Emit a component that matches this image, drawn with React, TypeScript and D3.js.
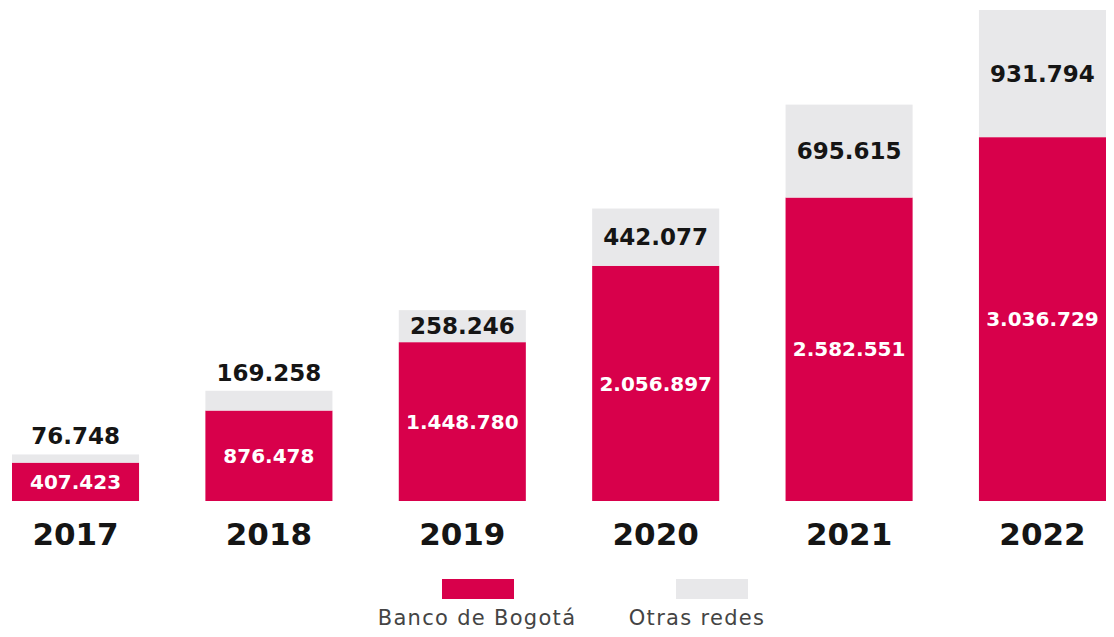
import React from "react";
import * as d3 from "d3";

const years = ["2017", "2018", "2019", "2020", "2021", "2022"];
const bancoBogota = [407423, 876478, 1448780, 2056897, 2582551, 3036729];
const otrasRedes = [76748, 169258, 258246, 442077, 695615, 931794];
const seriesNames = ["Banco de Bogotá", "Otras redes"];

const W = 1114;
const H = 637;
const RED = "#D8004B";
const GREY = "#E8E8EA";
const FONT = "'DejaVu Sans', sans-serif";

const fmt = (v: number) => d3.format(",")(v).replace(/,/g, ".");

export default function App() {
  const baseY = 501;
  const topY = 10;
  const totals = years.map((_, i) => bancoBogota[i] + otrasRedes[i]);
  const x = d3.scaleBand<string>().domain(years).range([12, 1106]).paddingInner(0.343).paddingOuter(0);
  const y = d3
    .scalePow()
    .exponent(1.12)
    .domain([0, d3.max(totals) as number])
    .range([baseY, topY]);

  const color = d3.scaleOrdinal<string, string>().domain(seriesNames).range([RED, GREY]);

  return (
    <svg width={W} height={H} style={{ position: "absolute", left: 0, top: 0, background: "#fff" }}>
      {years.map((yr, i) => {
        const x0 = x(yr) as number;
        const bw = x.bandwidth();
        const cx = x0 + bw / 2;
        const redTop = y(bancoBogota[i]);
        const greyTop = y(totals[i]);
        const greyH = redTop - greyTop;
        const greyInside = greyH > 30;
        const greyLabelY = greyInside ? (greyTop + redTop) / 2 : greyTop - 10;
        return (
          <g key={yr}>
            <rect x={x0} y={redTop} width={bw} height={baseY - redTop} fill={color(seriesNames[0])} />
            <rect x={x0} y={greyTop} width={bw} height={greyH} fill={color(seriesNames[1])} />
            <text
              x={cx}
              y={(redTop + baseY) / 2}
              dy="0.36em"
              textAnchor="middle"
              fill="#fff"
              fontFamily={FONT}
              fontWeight="bold"
              fontSize={20}
            >
              {fmt(bancoBogota[i])}
            </text>
            <text
              x={cx}
              y={greyLabelY}
              dy={greyInside ? "0.36em" : "0"}
              textAnchor="middle"
              fill="#151515"
              fontFamily={FONT}
              fontWeight="bold"
              fontSize={23}
            >
              {fmt(otrasRedes[i])}
            </text>
            <text
              x={cx}
              y={545}
              textAnchor="middle"
              fill="#151515"
              fontFamily={FONT}
              fontWeight="bold"
              fontSize={31}
            >
              {yr}
            </text>
          </g>
        );
      })}
      {seriesNames.map((name, i) => {
        const lx = [477, 697][i];
        const rx = [442, 676][i];
        return (
          <g key={name}>
            <rect x={rx} y={579} width={72} height={20} fill={color(name)} />
            <text
              x={lx}
              y={625}
              textAnchor="middle"
              fill="#444"
              fontFamily={FONT}
              fontSize={21}
              letterSpacing={1.3}
            >
              {name}
            </text>
          </g>
        );
      })}
    </svg>
  );
}
